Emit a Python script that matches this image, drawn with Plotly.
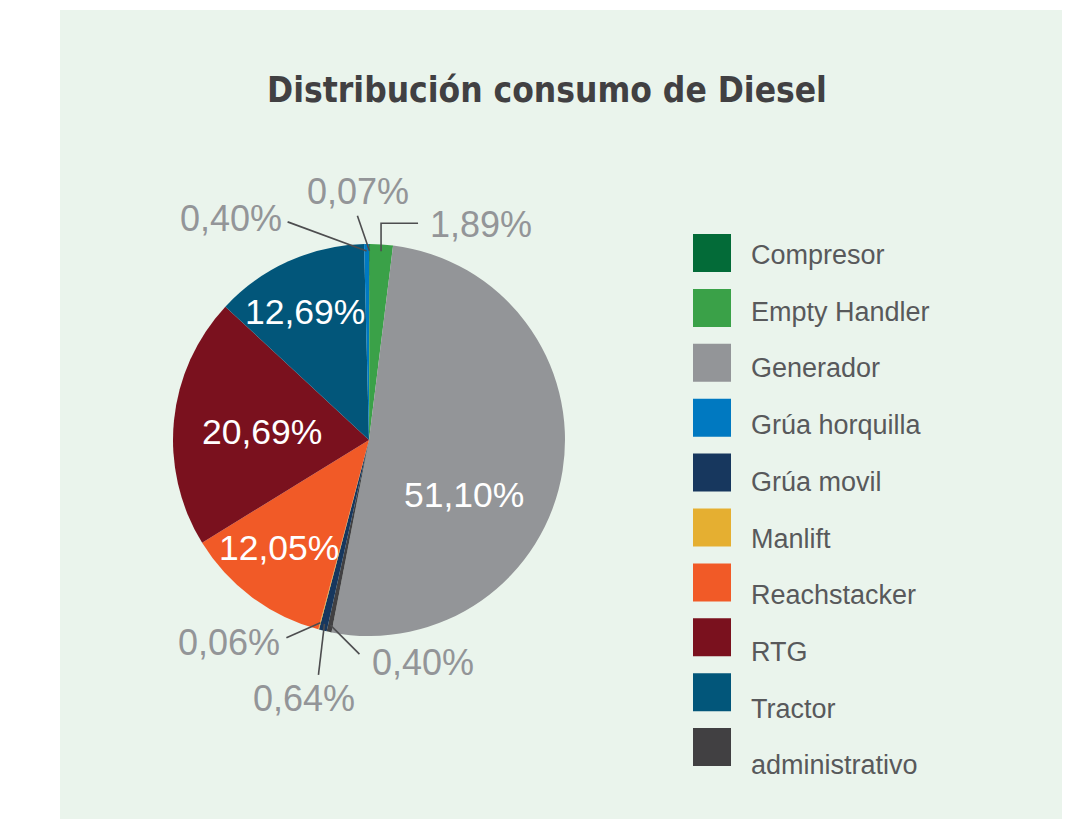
import math
import plotly.graph_objects as go

# Diesel consumption share per equipment type (%), in legend order
categories = ["Compresor", "Empty Handler", "Generador", "Grúa horquilla", "Grúa movil",
              "Manlift", "Reachstacker", "RTG", "Tractor", "administrativo"]
shares = [0.07, 1.89, 51.10, 0.40, 0.64, 0.06, 12.05, 20.69, 12.69, 0.40]
colors = ["#036B38", "#3AA148", "#939598", "#0079C1", "#17375E",
          "#E5AF31", "#F15A27", "#7A111E", "#02567A", "#414042"]

# slice order clockwise from 12 o'clock
slice_order = ["Compresor", "Empty Handler", "Generador", "administrativo", "Grúa movil",
               "Manlift", "Reachstacker", "RTG", "Tractor", "Grúa horquilla"]

title_text = "Distribución consumo de Diesel"

W, H = 1081, 819
CX, CY, R = 369, 440, 196          # pie centre and radius in pixels

share_of = dict(zip(categories, shares))
color_of = dict(zip(categories, colors))
pie_labels = slice_order
pie_values = [share_of[c] for c in slice_order]
pie_colors = [color_of[c] for c in slice_order]


def fmt(v):
    return f"{v:.2f}".replace(".", ",") + "%"


def px(x, y):
    return x / W, 1 - y / H


def polar(theta_deg, r):
    t = math.radians(theta_deg)
    return CX + r * math.sin(t), CY - r * math.cos(t)


# mid angle of every slice (degrees clockwise from top)
total = sum(pie_values)
mid_angle = {}
cum = 0.0
for lab, v in zip(pie_labels, pie_values):
    mid_angle[lab] = 360.0 * (cum + v / 2) / total
    cum += v

fig = go.Figure()
fig.add_trace(go.Pie(
    labels=pie_labels,
    values=pie_values,
    marker=dict(colors=pie_colors, line=dict(width=0)),
    sort=False,
    direction="clockwise",
    rotation=0,
    textinfo="none",
    hoverinfo="label+percent",
    showlegend=False,
    domain=dict(x=[(CX - R) / W, (CX + R) / W],
                y=[1 - (CY + R) / H, 1 - (CY - R) / H]),
))

shapes = [dict(type="rect", xref="paper", yref="paper",
               x0=60 / W, x1=1062 / W, y0=0, y1=1 - 10 / H,
               fillcolor="#EAF4EC", line=dict(width=0), layer="below")]
annotations = []

# labels inside the large slices: (angle shift in deg, radius fraction)
inside_place = {"Generador": (21, 0.56), "RTG": (-1.3, 0.55),
                "Reachstacker": (3.1, 0.72), "Tractor": (-2.1, 0.73)}
for lab, (dth, rf) in inside_place.items():
    x, y = polar(mid_angle[lab] + dth, rf * R)
    ax_, ay_ = px(x, y)
    annotations.append(dict(x=ax_, y=ay_, xref="paper", yref="paper", text=fmt(share_of[lab]),
                            showarrow=False, xanchor="center", yanchor="middle",
                            font=dict(family="Liberation Sans, Arial", size=35.5, color="white")))

# labels outside the thin slices with leader lines:
# line end offset from the slice point, optional elbow, text anchor and text offset from line end
outside_place = {
    "Compresor":      dict(end=(-12, -35), elbow=None, anchor="center", toff=(1, -24)),
    "Empty Handler":  dict(end=(37, -28), elbow=(0, -28), anchor="left", toff=(10, 1)),
    "Grúa horquilla": dict(end=(-79, -29), elbow=None, anchor="right", toff=(-4, -3)),
    "Manlift":        dict(end=(-34, 15), elbow=None, anchor="right", toff=(-4, 5)),
    "Grúa movil":     dict(end=(-6, 51), elbow=None, anchor="center", toff=(-14, 24)),
    "administrativo": dict(end=(29, 29), elbow=None, anchor="left", toff=(11, 8)),
}
for lab, p in outside_place.items():
    sx, sy = polar(mid_angle[lab], 0.965 * R)
    pts = [(sx, sy)]
    if p["elbow"]:
        pts.append((sx + p["elbow"][0], sy + p["elbow"][1]))
    ex, ey = sx + p["end"][0], sy + p["end"][1]
    pts.append((ex, ey))
    path = "M " + " L ".join(f"{px(x, y)[0]:.5f},{px(x, y)[1]:.5f}" for x, y in pts)
    shapes.append(dict(type="path", xref="paper", yref="paper", path=path,
                       line=dict(color="#4D4D4F", width=1.6), layer="above"))
    tx, ty = px(ex + p["toff"][0], ey + p["toff"][1])
    annotations.append(dict(x=tx, y=ty, xref="paper", yref="paper", text=fmt(share_of[lab]),
                            showarrow=False, xanchor=p["anchor"], yanchor="middle",
                            font=dict(family="Liberation Sans, Arial", size=36, color="#939598")))

# legend: coloured squares and names, in category order
for i, (lab, col) in enumerate(zip(categories, colors)):
    cy_sq = 253 + i * 54.9
    x0, y1 = px(693, cy_sq - 19)
    x1, y0 = px(731, cy_sq + 19)
    shapes.append(dict(type="rect", xref="paper", yref="paper", x0=x0, x1=x1, y0=y0, y1=y1,
                       fillcolor=col, line=dict(width=0), layer="above"))
    lx, ly = px(749, 255 + i * 56.7)
    annotations.append(dict(x=lx, y=ly, xref="paper", yref="paper", text=lab,
                            showarrow=False, xanchor="left", yanchor="middle",
                            font=dict(family="Liberation Sans, Arial", size=27, color="#58595B")))

fig.update_layout(
    width=W, height=H,
    margin=dict(l=0, r=0, t=0, b=0),
    paper_bgcolor="white",
    title=dict(text="<b>" + title_text + "</b>", x=547 / W, y=1 - 90 / H,
               xanchor="center", yanchor="middle",
               font=dict(family="DejaVu Sans Condensed, sans-serif",
                         size=35, color="#414042")),
    shapes=shapes,
    annotations=annotations,
)

fig.write_html("out.html")
